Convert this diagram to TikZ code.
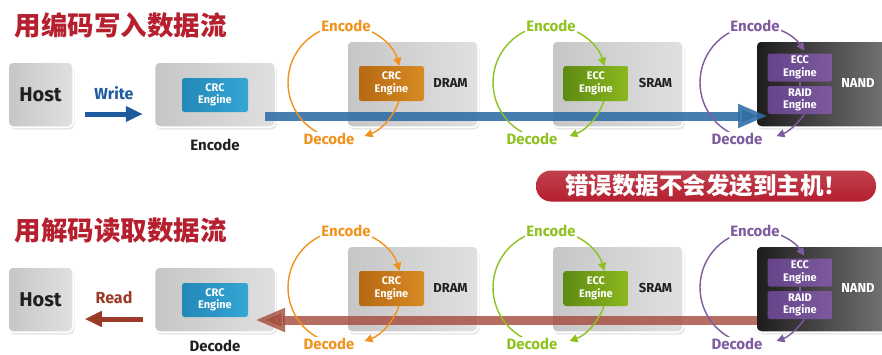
\documentclass[tikz,border=0pt]{standalone}
\usepackage{fontspec}
\setmainfont{Fira Sans}
\newfontfamily\cjk{Noto Sans CJK SC}
\usetikzlibrary{arrows.meta,shadows}
\definecolor{titlered}{HTML}{B51F2E}
\definecolor{inkdark}{HTML}{231F20}
\definecolor{crcA}{HTML}{2388B8}
\definecolor{crcB}{HTML}{35A6D4}
\definecolor{orA}{HTML}{B56912}
\definecolor{orB}{HTML}{D88B22}
\definecolor{grA}{HTML}{5E8A12}
\definecolor{grB}{HTML}{8CB91F}
\definecolor{puA}{HTML}{66448A}
\definecolor{puB}{HTML}{7C5A9C}
\definecolor{orL}{HTML}{F0921C}
\definecolor{grL}{HTML}{8DC21F}
\definecolor{puL}{HTML}{7E5A9E}
\definecolor{writeblue}{HTML}{1E5B9E}
\definecolor{readred}{HTML}{9B3A28}
\definecolor{bandblue}{HTML}{2F6DA5}
\definecolor{bandred}{HTML}{A44A3C}
\definecolor{panelA}{HTML}{C6C6C6}
\definecolor{panelB}{HTML}{E0E0E0}
\definecolor{nandA}{HTML}{1E1B1B}
\definecolor{nandB}{HTML}{7A7A7A}
\tikzset{
  panel/.style={rounded corners=5pt, draw=white, line width=1.5pt,
    left color=panelA, right color=panelB, inner sep=0pt,
    drop shadow={opacity=0.18, shadow xshift=1.5pt, shadow yshift=-2.5pt}},
  darkpanel/.style={panel, left color=nandA, right color=nandB},
  engine/.style={rounded corners=2.5pt, text=white, align=center, inner sep=0pt,
    minimum width=65pt, minimum height=35pt,
    font=\fontsize{11}{12.5}\selectfont\bfseries},
  blueeng/.style={engine, left color=crcA, right color=crcB},
  oreng/.style={engine, left color=orA, right color=orB},
  greng/.style={engine, left color=grA, right color=grB},
  pueng/.style={engine, left color=puA, right color=puB, minimum height=28pt},
  memlab/.style={font=\fontsize{13}{15}\selectfont\bfseries, text=inkdark},
  cyclab/.style={font=\fontsize{15}{17}\selectfont\bfseries, fill=white, inner sep=1pt},
  cycline/.style={line width=1.4pt, -{Triangle[length=8pt,width=8pt]}},
  cycplain/.style={line width=1.4pt},
  title/.style={font=\cjk\fontsize{26.5}{29}\selectfont\bfseries, text=titlered, anchor=west},
  rwarrow/.style={line width=5pt, -{Triangle[length=17pt,width=15pt]}, shorten <=11pt, shorten >=11pt},
  band/.style={line width=9pt, -{Triangle[length=30pt,width=22pt]}},
}
\begin{document}
\begin{tikzpicture}[x=1pt,y=-1pt]
\useasboundingbox (0,0) rectangle (882,354);
\clip (0,0) rectangle (882,354);
\fill[white] (0,0) rectangle (882,354);

% titles
\node[title] (t1) at (11,25) {用编码写入数据流};
\node[title] (t2) at (11,230) {用解码读取数据流};

% banner
\node[rounded corners=15pt, minimum width=340pt, minimum height=31pt, inner sep=0pt,
  top color=titlered!85!white, bottom color=titlered, text=white,
  font=\cjk\fontsize{23.5}{25}\selectfont\bfseries] (banner) at (706,186) {错误数据不会发送到主机！};

% ---------- memory sections, both rows ----------
\foreach \r/\dy in {w/0,r/205}{
  \begin{scope}[yshift=-\dy pt]
    \node[panel, minimum width=131pt, minimum height=86pt] (dram\r) at (412.5,84) {};
    \node[panel, minimum width=131pt, minimum height=86pt] (sram\r) at (617.5,84) {};
    \node[darkpanel, minimum width=140pt, minimum height=86pt] (nand\r) at (826,84) {};
    \node[memlab] (dramlab\r) at (450.5,83) {DRAM};
    \node[memlab] (sramlab\r) at (655.5,83) {SRAM};
    \node[memlab, text=white] (nandlab\r) at (858,83) {NAND};
  \end{scope}
}

% ---------- top row (write) ----------
\node[panel, minimum width=65pt, minimum height=65pt, font=\fontsize{20}{22}\selectfont\bfseries, text=inkdark] (hostw) at (40.5,94.5) {Host};
\node[panel, minimum width=121pt, minimum height=65pt] (encw) at (215,94.5) {};
\node[blueeng, minimum width=66pt, minimum height=34pt] (crcw) at (215,95) {CRC\\Engine};
\node[font=\fontsize{15}{17}\selectfont\bfseries, text=inkdark] (enclab) at (215,145) {Encode};
\node[font=\fontsize{16}{18}\selectfont\bfseries, text=writeblue] (writelab) at (114,93) {Write};
\draw[rwarrow, writeblue] ([yshift=-19.5pt]hostw.east) -- ([yshift=-19.5pt]encw.west);
\coordinate (wbs) at (265,116);
\coordinate (wbe) at (768,116);
\draw[band, bandblue, opacity=0.88] (wbs) -- (wbe);

% ---------- bottom row (read) ----------
\node[panel, minimum width=65pt, minimum height=65pt, font=\fontsize{20}{22}\selectfont\bfseries, text=inkdark] (hostr) at (40.5,299.5) {Host};
\node[panel, minimum width=121pt, minimum height=65pt] (decr) at (215,299.5) {};
\node[blueeng, minimum width=66pt, minimum height=34pt] (crcr) at (215,300) {CRC\\Engine};
\node[font=\fontsize{15}{17}\selectfont\bfseries, text=inkdark] (declab) at (215,345.5) {Decode};
\node[font=\fontsize{16}{18}\selectfont\bfseries, text=readred] (readlab) at (114,298) {Read};
\draw[rwarrow, readred] ([yshift=-19.5pt]decr.west) -- ([yshift=-19.5pt]hostr.east);
\coordinate (rbs) at (757,320);
\coordinate (rbe) at (255,320);
\draw[band, bandred, opacity=0.8] (rbs) -- (rbe);

% ---------- engines and cycles, both rows ----------
\foreach \r/\dy in {w/0,r/205}{
  \begin{scope}[yshift=-\dy pt]
    % orange
    \coordinate (co\r) at (345,82.5);
    \draw[cycplain, orL] ([shift={(-90:57)}]co\r) arc[start angle=-90, end angle=-255, radius=57];
    \draw[cycline, orL] ([shift={(-90:57)}]co\r) arc[start angle=-90, end angle=-17, radius=57];
    \draw[cycline, orL] ([shift={(18:57)}]co\r) arc[start angle=18, end angle=70, radius=57];
    \node[cyclab, text=orL] (enco\r) at (346,26) {Encode};
    \node[cyclab, text=orL] (deco\r) at (329,139) {Decode};
    \node[oreng] (crco\r) at (391.5,83.5) {CRC\\Engine};
    % green
    \coordinate (cg\r) at (550,82.5);
    \draw[cycplain, grL] ([shift={(-90:57)}]cg\r) arc[start angle=-90, end angle=-255, radius=57];
    \draw[cycline, grL] ([shift={(-90:57)}]cg\r) arc[start angle=-90, end angle=-17, radius=57];
    \draw[cycline, grL] ([shift={(18:57)}]cg\r) arc[start angle=18, end angle=70, radius=57];
    \node[cyclab, text=grL] (encg\r) at (551,26) {Encode};
    \node[cyclab, text=grL] (decg\r) at (532,139) {Decode};
    \node[greng] (eccg\r) at (596,83.5) {ECC\\Engine};
    % purple
    \coordinate (cp\r) at (757,82.5);
    \draw[cycplain, puL] ([shift={(-90:57)}]cp\r) arc[start angle=-90, end angle=-255, radius=57];
    \draw[cycline, puL] ([shift={(-90:57)}]cp\r) arc[start angle=-90, end angle=-34, radius=57];
    \draw[cycline, puL] ([shift={(34:57)}]cp\r) arc[start angle=34, end angle=70, radius=57];
    \node[cyclab, text=puL] (encp\r) at (755,26) {Encode};
    \node[cyclab, text=puL] (decp\r) at (737,139) {Decode};
    \node[pueng] (eccp\r) at (800,67.5) {ECC\\Engine};
    \node[pueng] (raidp\r) at (800,100) {RAID\\Engine};
    \draw[puB, line width=1.5pt] (eccp\r.south) -- (raidp\r.north);
  \end{scope}
}
\end{tikzpicture}
\end{document}
